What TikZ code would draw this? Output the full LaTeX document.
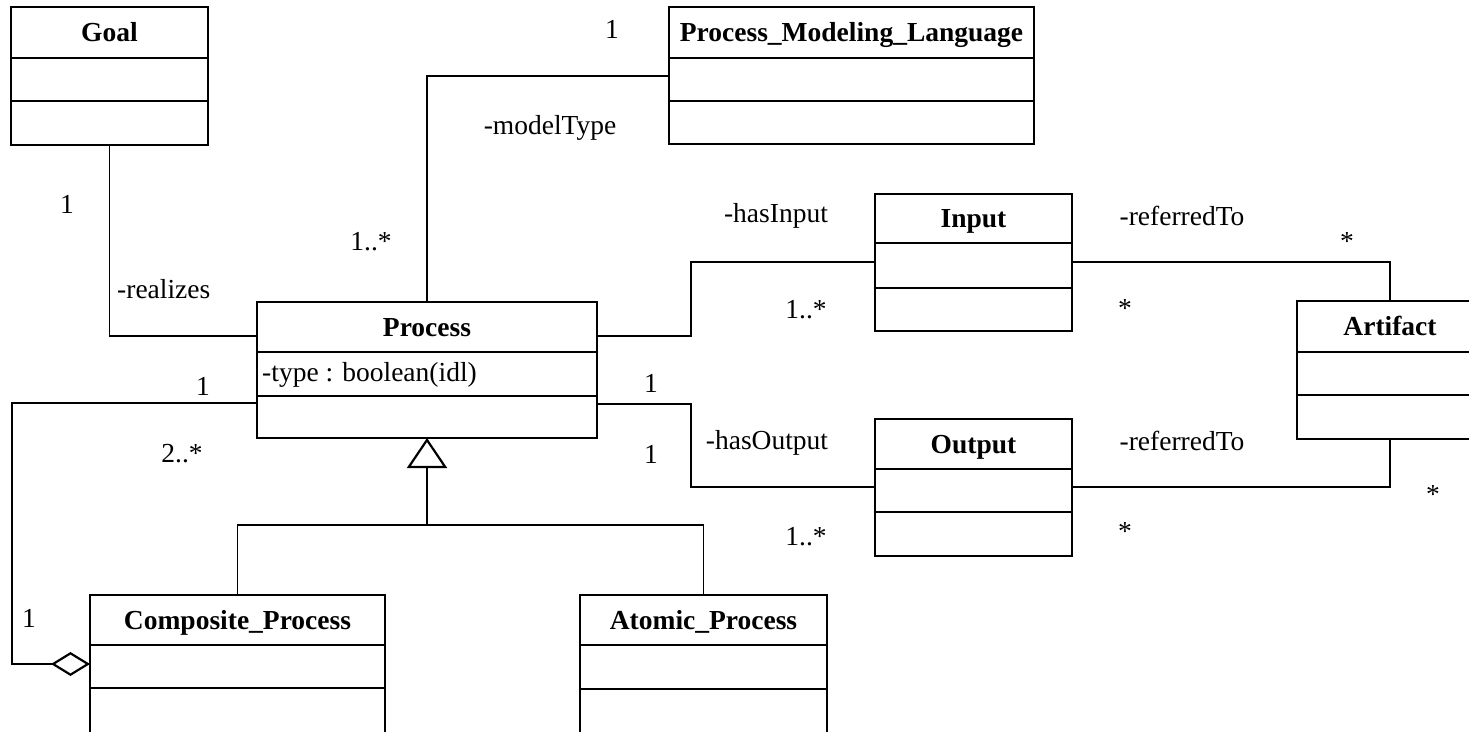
\documentclass[tikz,border=0pt]{standalone}
\usepackage{fontspec}
\setmainfont{Liberation Serif}
\usetikzlibrary{arrows.meta,calc}

\tikzset{
  umlbox/.style={draw, line width=2.5pt, rectangle, inner sep=0pt, outer sep=0pt, anchor=north west},
  divider/.style={line width=2.5pt},
  conn/.style={line width=1.3pt},
  txt/.style={font=\fontsize{27.5}{33}\selectfont, text height=0.68em, text depth=0.22em, inner sep=0pt, yshift=-5pt},
  title/.style={txt, font=\fontsize{27.5}{33}\selectfont\bfseries},
  lbl/.style={txt},
}

% #1 name, #2 x, #3 y, #4 width, #5 height, #6 title, #7 first divider, #8 second divider
\newcommand\umlclass[8]{%
  \node[umlbox, minimum width=#4pt, minimum height=#5pt] (#1) at (#2,#3) {};
  \node[title] (#1-t) at ($(#1.north)+(0,#7/2+2)$) {#6};
  \draw[divider] ($(#1.north west)+(0,#7)$) -- ($(#1.north east)+(0,#7)$);
  \draw[divider] ($(#1.north west)+(0,#8)$) -- ($(#1.north east)+(0,#8)$);
}

\begin{document}
\begin{tikzpicture}[x=1pt,y=-1pt]
\useasboundingbox (0,0) rectangle (1469,731);
\clip (0,0) rectangle (1469,731);

% classes
\umlclass{goal}{11}{7}{197}{138}{Goal}{51}{94}
\umlclass{pml}{669}{7}{365}{137}{Process\_Modeling\_Language}{51}{94}
\umlclass{process}{257}{302}{340}{136}{Process}{50}{94}
\umlclass{input}{875}{194}{197}{137}{Input}{49}{94}
\umlclass{output}{875}{419}{197}{137}{Output}{50}{93}
\umlclass{artifact}{1297}{301}{186}{138}{Artifact}{51}{94}
\umlclass{composite}{90}{595}{295}{170}{Composite\_Process}{50}{93}
\umlclass{atomic}{580}{595}{247}{170}{Atomic\_Process}{50}{94}

\node[lbl, anchor=west] (ptype) at ($(process.north west)+(5,72)$) {-type : boolean(idl)};

% associations
\draw[conn] (goal.south) |- ([yshift=-34pt]process.north west);
\draw[conn] (process.north) |- ([yshift=-69pt]pml.north west);
\draw[conn] ([yshift=-34pt]process.north east) -- ++(94,0) |- ([yshift=-68pt]input.north west);
\draw[conn] ([yshift=-102pt]process.north east) -- ++(94,0) |- ([yshift=-68pt]output.north west);
\draw[conn] ([yshift=-68pt]input.north east) -| (artifact.north);
\draw[conn] ([yshift=-68pt]output.north east) -| (artifact.south);

% aggregation
\draw[conn, -{Diamond[open, length=39pt, width=24pt, line width=2.2pt]}]
  ([yshift=-101pt]process.north west) -| ([xshift=-78pt,yshift=-69pt]composite.north west)
  -- ([yshift=-69pt]composite.north west);

% generalization
\coordinate (gen) at (427,525);
\draw[conn] (composite.north) |- (gen) -| (atomic.north);
\draw[conn, -{Triangle[open, length=30pt, width=40pt, line width=2.2pt]}] (gen) -- (process.south);

% role names and multiplicities
\node[lbl] (m1) at (67,206) {1};
\node[lbl, anchor=west] (r1) at (117,291) {-realizes};
\node[lbl] (m2) at (371,243) {1..*};
\node[lbl] (m3) at (612,31) {1};
\node[lbl] (r2) at (550,127) {-modelType};
\node[lbl] (r3) at (776,215) {-hasInput};
\node[lbl] (m4) at (806,311) {1..*};
\node[lbl] (r4) at (1182,218) {-referredTo};
\node[lbl] (m5) at (1347,243) {*};
\node[lbl] (m6) at (1125,310) {*};
\node[lbl] (m7) at (651,385) {1};
\node[lbl] (m8) at (651,456) {1};
\node[lbl] (r5) at (767,442) {-hasOutput};
\node[lbl] (r6) at (1182,443) {-referredTo};
\node[lbl] (m9) at (806,538) {1..*};
\node[lbl] (m10) at (1125,533) {*};
\node[lbl] (m11) at (1433,496) {*};
\node[lbl] (m12) at (203,388) {1};
\node[lbl] (m13) at (182,455) {2..*};
\node[lbl] (m14) at (29,620) {1};
\end{tikzpicture}
\end{document}
